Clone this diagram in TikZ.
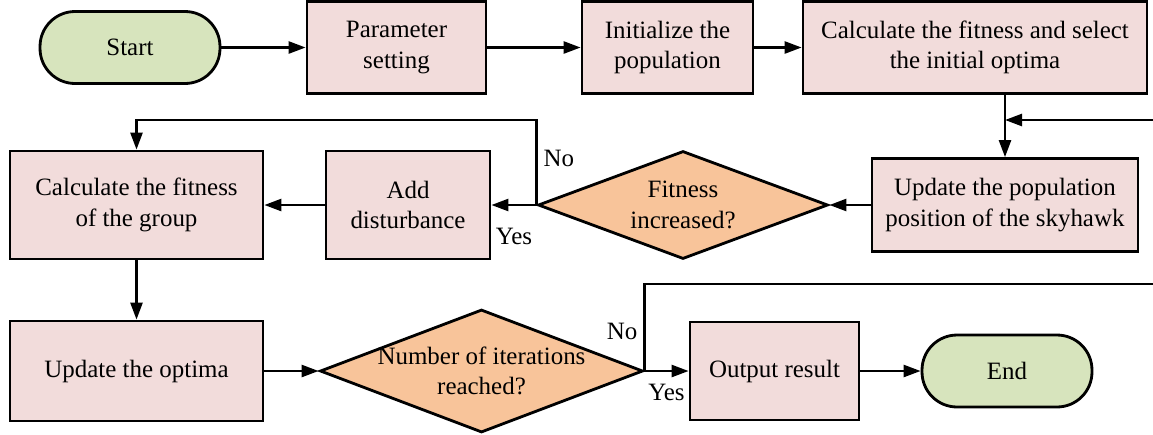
\documentclass[tikz,border=0pt]{standalone}
\usepackage{fontspec}
\setmainfont{LiberationSerif}[Extension=.ttf,UprightFont=*-Regular,BoldFont=*-Bold]
\usetikzlibrary{shapes.geometric,arrows.meta}
\definecolor{termgreen}{RGB}{215,228,189}
\definecolor{procpink}{RGB}{242,220,219}
\definecolor{decorange}{RGB}{248,196,154}

\begin{document}
\begin{tikzpicture}[x=0.02cm,y=-0.02cm,
  font=\rmfamily\fontsize{14.2}{17.4}\selectfont,
  term/.style={draw,line width=1.6pt,fill=termgreen,rounded corners=0.7cm,minimum height=1.44cm},
  proc/.style={draw,line width=1.6pt,fill=procpink,align=center,inner sep=2pt},
  decision/.style={draw,line width=1.6pt,fill=decorange,diamond,aspect=2.6,inner sep=0pt,align=center},
  arr/.style={-{Triangle[length=3.4mm,width=2.4mm]},line width=1.4pt}]
  \useasboundingbox (0,0) rectangle (1153,434);

  \node[term,minimum width=3.6cm] (start) at (130,47.5) {Start};
  \node[proc,minimum width=3.58cm,minimum height=1.84cm] (param) at (396.5,47.5) {Parameter\\setting};
  \node[proc,minimum width=3.42cm,minimum height=1.84cm] (init) at (667.5,47.5) {Initialize the\\population};
  \node[proc,minimum width=6.88cm,minimum height=1.84cm] (calcfit) at (975,47.5) {Calculate the fitness and select\\the initial optima};

  \node[proc,minimum width=5.32cm,minimum height=1.86cm] (updpop) at (1005,205) {Update the population\\position of the skyhawk};
  \node[decision,minimum width=5.8cm,minimum height=2.16cm] (fitinc) at (683,205) {Fitness\\increased?};
  \node[proc,minimum width=3.28cm,minimum height=2.16cm] (addd) at (408,205) {Add\\disturbance};
  \node[proc,minimum width=5.06cm,minimum height=2.16cm] (calcgrp) at (136.5,205) {Calculate the fitness\\of the group};

  \node[proc,minimum width=5.06cm,minimum height=2cm] (updopt) at (136.5,371) {Update the optima};
  \node[decision,inner xsep=-5mm,minimum width=6.46cm,minimum height=2.46cm] (iter) at (481.5,371) {Number of iterations\\reached?};
  \node[proc,minimum width=3.38cm,minimum height=1.96cm] (output) at (774.5,371) {Output result};
  \node[term,minimum width=3.4cm] (end) at (1007,371) {End};

  \coordinate (upper) at (0,120);
  \coordinate (farright) at (1165,284);

  \draw[arr] (start) -- (param);
  \draw[arr] (param) -- (init);
  \draw[arr] (init) -- (calcfit);
  \draw[arr] (calcfit.south -| updpop.north) -- (updpop.north);
  \draw[arr] (updpop) -- (fitinc);
  \draw[arr] (fitinc) -- node[below,yshift=-0.32cm] {Yes} (addd);
  \draw[arr] (fitinc.west) -- node[right,pos=0.55] {No} (fitinc.west |- upper) -| (calcgrp.north);
  \draw[arr] (addd) -- (calcgrp);
  \draw[arr] (calcgrp) -- (updopt);
  \draw[arr] (updopt) -- (iter);
  \draw[arr] (iter) -- node[below,yshift=-0.12cm] {Yes} (output);
  \draw[arr] (output) -- (end);
  \draw[arr] (iter.east) -- node[left,pos=0.45] {No} (iter.east |- farright) -- (farright) |- (updpop.north |- upper);
\end{tikzpicture}
\end{document}
